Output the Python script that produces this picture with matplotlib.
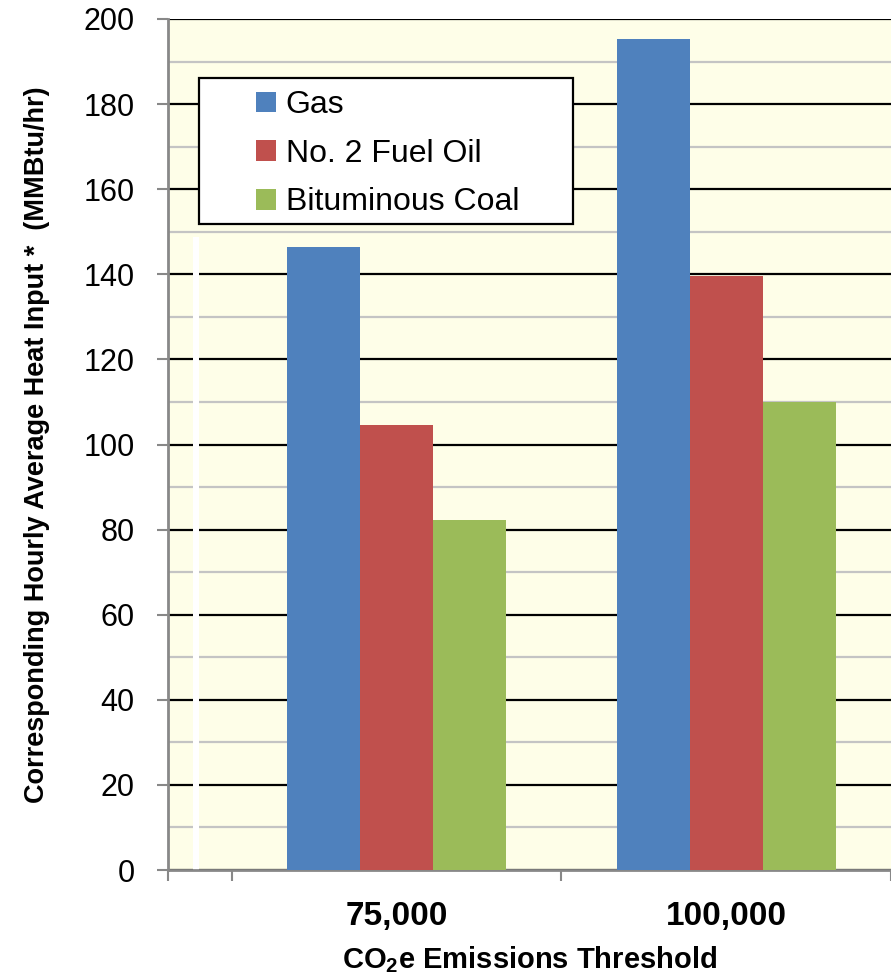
import matplotlib
matplotlib.use('Agg')
import matplotlib.pyplot as plt
from matplotlib.patches import Rectangle, Patch
from matplotlib.ticker import MultipleLocator, FixedLocator
import numpy as np

# data
thresholds = ['75,000', '100,000']
fuels = ['Gas', 'No. 2 Fuel Oil', 'Bituminous Coal']
gas = [146.4, 195.2]
fuel_oil = [104.6, 139.6]
coal = [82.3, 110.0]
colors = ['#4F81BD', '#C0504D', '#9BBB59']

plt.rcParams['mathtext.default'] = 'regular'
plt.rcParams['font.family'] = 'Liberation Sans'

fig = plt.figure(figsize=(8.91, 9.76), dpi=100)
ax = fig.add_axes([168 / 891, 1 - 870 / 976, 723 / 891, 851 / 976])
ax.set_facecolor('#FEFEE8')

x = np.arange(len(thresholds))
w = 0.2212
for i, (vals, c) in enumerate(zip([gas, fuel_oil, coal], colors)):
    ax.bar(x + (i - 1) * w, vals, width=w, color=c, linewidth=0, zorder=3)

ax.set_xlim(-0.694, 1.5)
ax.set_ylim(0, 200)

# grid: black major lines every 20, grey minor every 10
ax.yaxis.set_major_locator(MultipleLocator(20))
ax.yaxis.set_minor_locator(MultipleLocator(10))
ax.grid(True, which='major', axis='y', color='black', lw=1.6, zorder=1)
ax.grid(True, which='minor', axis='y', color='#C4C4C4', lw=1.6, zorder=1)
ax.tick_params(axis='y', which='major', length=8, width=1.5, color='#888888',
               pad=16, labelsize=22)
ax.tick_params(axis='y', which='minor', length=0)

# category labels centred, tick marks at the category boundaries
ax.set_xticks(x)
ax.set_xticklabels(thresholds, fontsize=24, fontweight='bold')
ax.xaxis.set_minor_locator(FixedLocator([-0.694, -0.5, 0.5, 1.5]))
ax.tick_params(axis='x', which='major', length=0, pad=22)
ax.tick_params(axis='x', which='minor', length=8, width=1.5, color='#888888')

for s in ['top', 'right']:
    ax.spines[s].set_visible(False)
for s in ['left', 'bottom']:
    ax.spines[s].set_color('#888888')
    ax.spines[s].set_linewidth(2)

# white strip artifact near the left edge
ax.add_patch(Rectangle((-0.618, 0), 0.018, 148.8, facecolor='white',
                       edgecolor='none', zorder=2))

ax.set_xlabel('CO$_2$e Emissions Threshold', fontsize=21, fontweight='bold')
ax.xaxis.set_label_coords(0.5, -0.087)
ax.set_ylabel('Corresponding Hourly Average Heat Input *  (MMBtu/hr)',
              fontsize=19.5, fontweight='bold')
ax.yaxis.set_label_coords(-0.163, 0.5)

# legend box
ax.add_patch(Rectangle(((199 - 168) / 723, (870 - 224) / 851),
                       (573 - 199) / 723, (224 - 78) / 851,
                       transform=ax.transAxes, facecolor='white',
                       edgecolor='black', lw=1.6, zorder=5))
handles = [Patch(facecolor=c, edgecolor='none') for c in colors]
leg = ax.legend(handles, fuels, loc='upper left',
                bbox_to_anchor=((250 - 168) / 723, (870 - 84) / 851),
                frameon=False, borderaxespad=0, borderpad=0.2,
                prop={'size': 23},
                handlelength=0.62, handleheight=0.62, handletextpad=0.3,
                labelspacing=0.58)
leg.set_zorder(6)

fig.savefig('out.png', dpi=100)
